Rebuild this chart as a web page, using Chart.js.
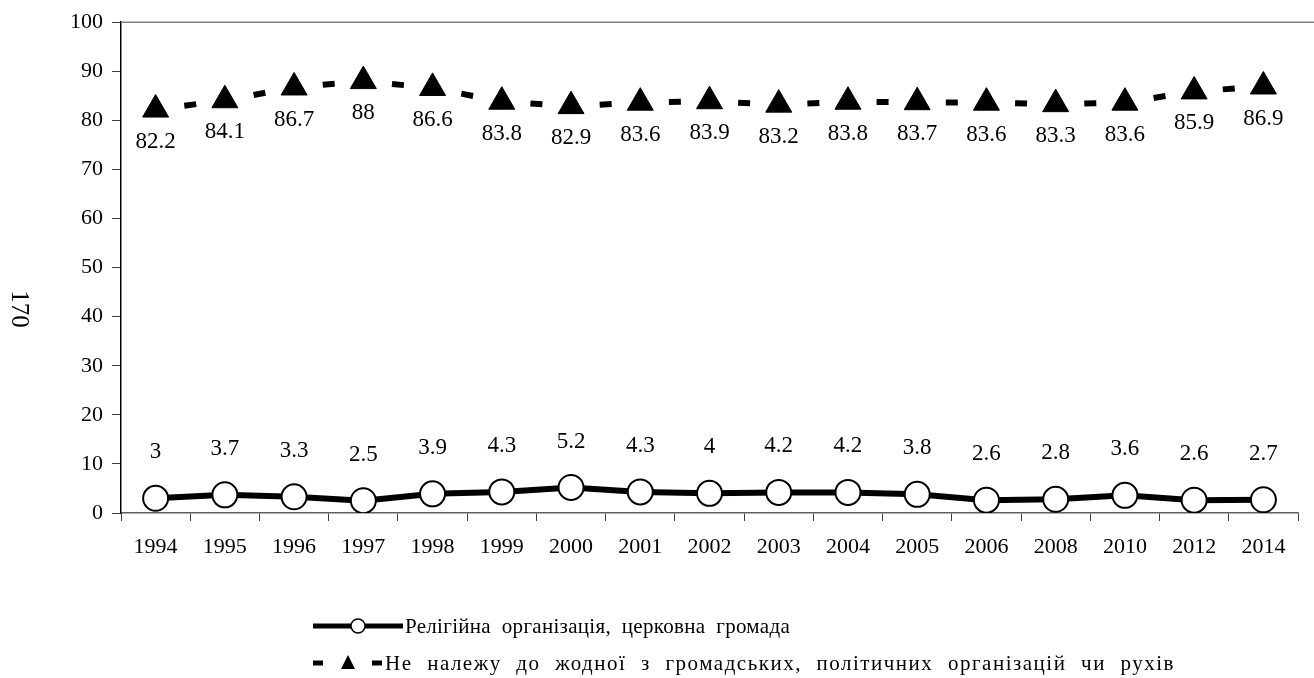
<!DOCTYPE html>
<html>
<head>
<meta charset="utf-8">
<script src="https://cdn.jsdelivr.net/npm/chart.js@4.4.1/dist/chart.umd.min.js"></script>
<style>
html, body { margin: 0; background: #fff; }
#wrap { width: 1314px; height: 678px; }
</style>
</head>
<body>
<div id="wrap"><canvas id="chart"></canvas></div>
<script>
const years = ['1994', '1995', '1996', '1997', '1998', '1999', '2000', '2001', '2002', '2003', '2004', '2005', '2006', '2008', '2010', '2012', '2014'];
const religious = [3, 3.7, 3.3, 2.5, 3.9, 4.3, 5.2, 4.3, 4, 4.2, 4.2, 3.8, 2.6, 2.8, 3.6, 2.6, 2.7];
const noneMember = [82.2, 84.1, 86.7, 88, 86.6, 83.8, 82.9, 83.6, 83.9, 83.2, 83.8, 83.7, 83.6, 83.3, 83.6, 85.9, 86.9];
const religiousName = 'Релігійна організація, церковна громада';
const noneName = 'Не належу до жодної з громадських, політичних організацій чи рухів';
const pageNumber = '170';

const serif = 'Liberation Serif, Times New Roman, serif';

// value labels next to each point
const pointLabels = {
    id: 'pointLabels',
    afterDatasetsDraw(chart) {
        const ctx = chart.ctx;
        ctx.save();
        ctx.font = '23px ' + serif;
        ctx.fillStyle = '#000';
        ctx.textAlign = 'center';
        ctx.textBaseline = 'middle';
        chart.data.datasets.forEach((ds, i) => {
            const meta = chart.getDatasetMeta(i);
            meta.data.forEach((pt, j) => {
                ctx.fillText(String(ds.data[j]), pt.x, pt.y + ds.labelOffset);
            });
        });
        ctx.restore();
    }
};

// legend text spread to a given width: some letter spacing, the rest in the word gaps
function spacedText(ctx, text, x, y, width, letter) {
    ctx.letterSpacing = letter + 'px';
    ctx.wordSpacing = '0px';
    const w = ctx.measureText(text).width;
    const spaces = text.split(' ').length - 1;
    ctx.wordSpacing = Math.max(0, (width - w) / spaces) + 'px';
    ctx.fillText(text, x, y);
    ctx.letterSpacing = '0px';
    ctx.wordSpacing = '0px';
}

// page number, top frame line and the legend at the bottom
const extras = {
    id: 'extras',
    afterDraw(chart) {
        const ctx = chart.ctx;
        const area = chart.chartArea;
        ctx.save();

        ctx.strokeStyle = '#808080';
        ctx.lineWidth = 1.5;
        ctx.beginPath();
        ctx.moveTo(area.left, area.top);
        ctx.lineTo(chart.width, area.top);
        ctx.stroke();

        ctx.translate(19, 309);
        ctx.rotate(Math.PI / 2);
        ctx.font = '25px ' + serif;
        ctx.fillStyle = '#000';
        ctx.textAlign = 'center';
        ctx.textBaseline = 'middle';
        ctx.fillText(pageNumber, 0, 0);
        ctx.setTransform(1, 0, 0, 1, 0, 0);

        const ds = chart.data.datasets;
        ctx.font = '21px ' + serif;
        ctx.textAlign = 'left';
        ctx.textBaseline = 'middle';
        ctx.fillStyle = '#000';
        ctx.strokeStyle = '#000';

        // first entry: solid line with circle
        let y = 626;
        ctx.lineWidth = 5;
        ctx.beginPath();
        ctx.moveTo(313, y);
        ctx.lineTo(403, y);
        ctx.stroke();
        ctx.beginPath();
        ctx.arc(358, y, 7, 0, Math.PI * 2);
        ctx.fillStyle = '#fff';
        ctx.fill();
        ctx.lineWidth = 1.5;
        ctx.stroke();
        ctx.fillStyle = '#000';
        spacedText(ctx, ds[0].label, 405, y + 1, 385, 0.3);

        // second entry: dashes with triangle
        y = 663;
        ctx.lineWidth = 5;
        ctx.beginPath();
        ctx.moveTo(313, y);
        ctx.lineTo(323, y);
        ctx.moveTo(372, y);
        ctx.lineTo(382, y);
        ctx.stroke();
        ctx.beginPath();
        ctx.moveTo(348, y - 8);
        ctx.lineTo(355, y + 6);
        ctx.lineTo(341, y + 6);
        ctx.closePath();
        ctx.fill();
        spacedText(ctx, ds[1].label, 385, y + 1, 790, 1.5);

        ctx.restore();
    }
};

// one short dash in the middle of every segment
function midDash(c) {
    const len = Math.hypot(c.p1.x - c.p0.x, c.p1.y - c.p0.y);
    return [0, len / 2 - 6, 12, len + 50];
}

new Chart(document.getElementById('chart'), {
    type: 'line',
    data: {
        labels: years,
        datasets: [{
            label: religiousName,
            data: religious,
            borderColor: '#000',
            borderWidth: 6,
            pointRadius: 12.5,
            pointBackgroundColor: '#fff',
            pointBorderColor: '#000',
            pointBorderWidth: 2,
            labelOffset: -46
        }, {
            label: noneName,
            data: noneMember,
            borderColor: '#000',
            borderWidth: 6,
            segment: {
                borderDash: midDash,
                borderDashOffset: c => c.p0DataIndex * 0.0001
            },
            pointStyle: 'triangle',
            pointRadius: 15,
            pointBackgroundColor: '#000',
            pointBorderColor: '#000',
            pointBorderWidth: 1,
            labelOffset: 32
        }]
    },
    options: {
        responsive: true,
        maintainAspectRatio: false,
        animation: false,
        events: [],
        layout: {
            padding: { left: 0, top: 20, right: 0, bottom: 105 }
        },
        plugins: {
            legend: { display: false },
            tooltip: { enabled: false }
        },
        scales: {
            x: {
                offset: true,
                afterFit: scale => { scale.height = 60; },
                grid: {
                    offset: true,
                    drawOnChartArea: false,
                    tickLength: 8,
                    color: '#404040'
                },
                border: { color: '#606060', width: 1.5 },
                ticks: {
                    color: '#000',
                    font: { family: serif, size: 22 },
                    padding: 13,
                    maxRotation: 0,
                    autoSkip: false
                }
            },
            y: {
                min: 0,
                max: 100,
                afterFit: scale => { scale.width = 121; },
                grid: {
                    drawOnChartArea: false,
                    tickLength: 9,
                    color: '#404040'
                },
                border: { color: '#000', width: 1.5 },
                ticks: {
                    stepSize: 10,
                    color: '#000',
                    font: { family: serif, size: 22 },
                    padding: 9
                }
            }
        }
    },
    plugins: [pointLabels, extras]
});
</script>
</body>
</html>
